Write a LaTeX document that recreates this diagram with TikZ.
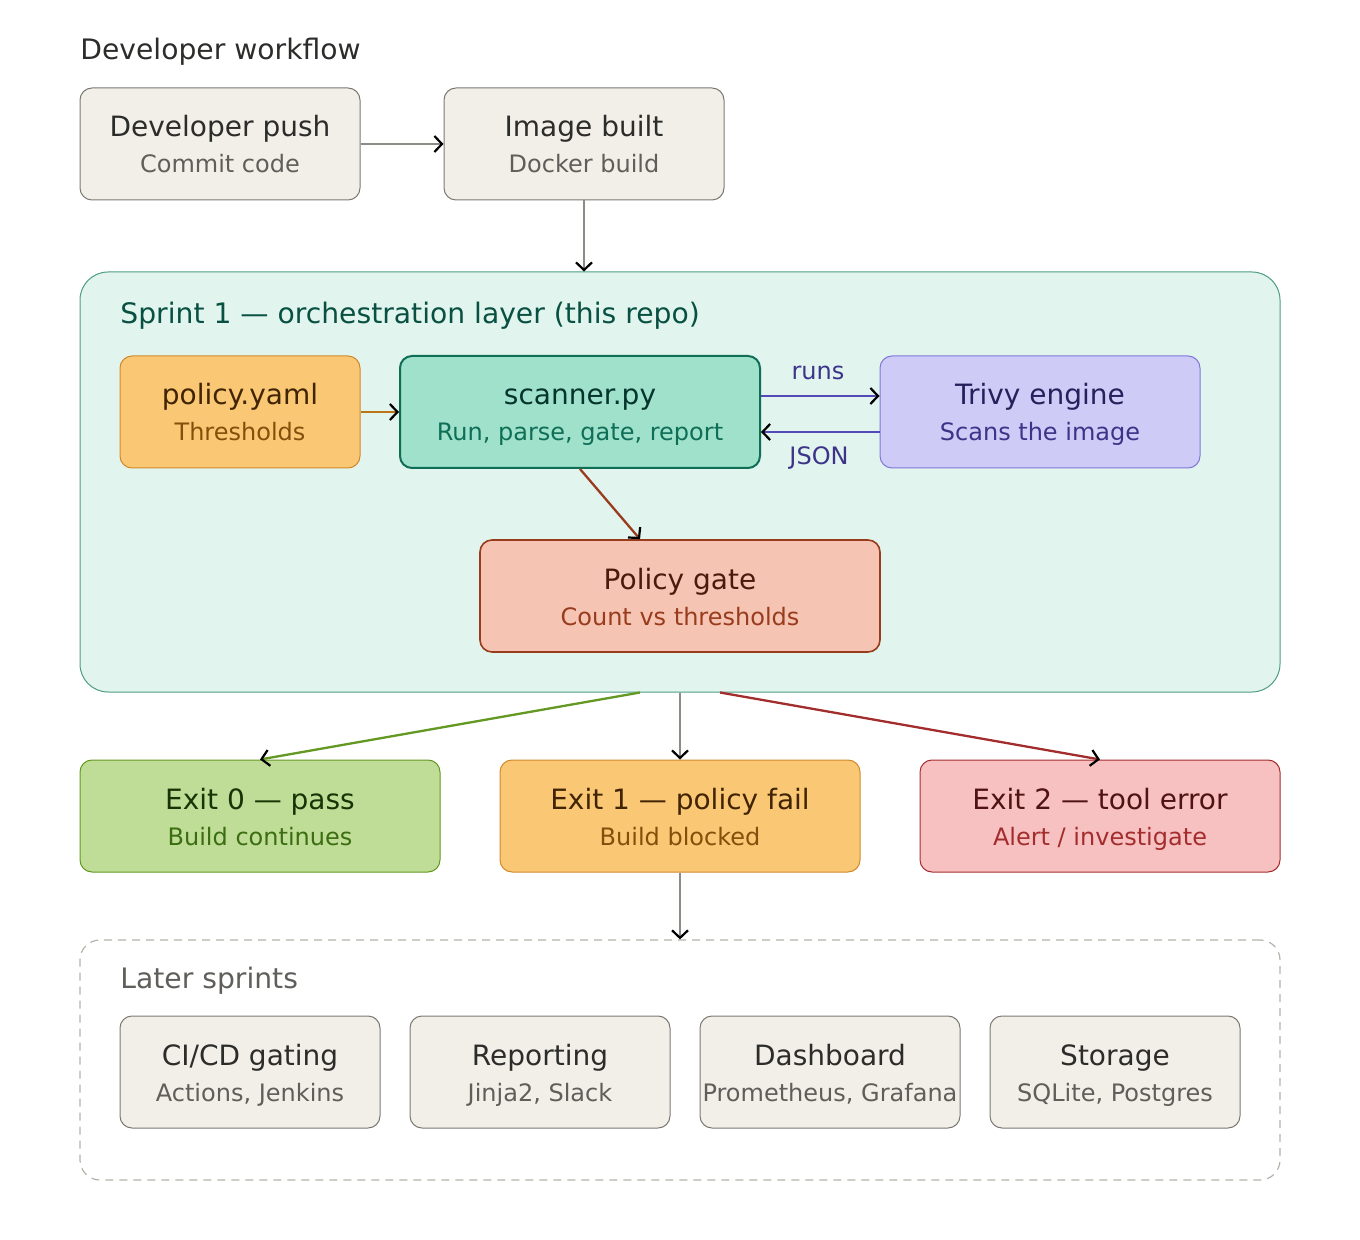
\documentclass[tikz,border=0pt]{standalone}
\usepackage{fontspec}
\setmainfont{DejaVu Sans}
\usetikzlibrary{arrows.meta,positioning}

\definecolor{beigeF}{HTML}{F1EFE8}
\definecolor{beigeD}{HTML}{7A7973}
\definecolor{inkT}{HTML}{2C2C2A}
\definecolor{inkS}{HTML}{5F5E5A}
\definecolor{amberF}{HTML}{FAC775}
\definecolor{amberD}{HTML}{D08A2A}
\definecolor{amberT}{HTML}{412402}
\definecolor{amberS}{HTML}{854F0B}
\definecolor{amberA}{HTML}{BA7517}
\definecolor{tealBg}{HTML}{E1F4EE}
\definecolor{tealBd}{HTML}{4E9C84}
\definecolor{tealF}{HTML}{9FE1CB}
\definecolor{tealD}{HTML}{0F6E56}
\definecolor{tealT}{HTML}{04342C}
\definecolor{tealH}{HTML}{085041}
\definecolor{violF}{HTML}{CECBF6}
\definecolor{violD}{HTML}{7F77DD}
\definecolor{violT}{HTML}{26215C}
\definecolor{violS}{HTML}{3C3489}
\definecolor{violA}{HTML}{534AB7}
\definecolor{coralF}{HTML}{F5C4B3}
\definecolor{coralD}{HTML}{993C1D}
\definecolor{coralT}{HTML}{4A1B0C}
\definecolor{greenF}{HTML}{C0DD97}
\definecolor{greenD}{HTML}{639922}
\definecolor{greenT}{HTML}{173404}
\definecolor{greenS}{HTML}{3B6D11}
\definecolor{redF}{HTML}{F7C1C1}
\definecolor{redD}{HTML}{A32D2D}
\definecolor{redT}{HTML}{501313}
\definecolor{grayA}{HTML}{8C8B85}
\definecolor{grayDash}{HTML}{B4B2A9}

% title and subtitle of a card
\newcommand\cardtxt[5]{%
  \node[ttl,text=#4,anchor=base] (#1-t) at ([yshift=3.5pt]#1.center) {#2};
  \node[sub,text=#5,anchor=base] (#1-s) at ([yshift=-14.5pt]#1.center) {#3};}

\begin{document}
\begin{tikzpicture}[x=0.5pt,y=-0.5pt,
  card/.style={draw,rounded corners=6pt,minimum width=140pt,minimum height=56pt,inner sep=0pt,line width=0.5pt},
  ttl/.style={font=\fontsize{14}{16}\selectfont,inner sep=0pt},
  sub/.style={font=\fontsize{12}{14}\selectfont,inner sep=0pt},
  head/.style={font=\fontsize{14.1}{16}\selectfont,inner sep=0pt,anchor=base west},
  flow/.style={line width=1.15pt,-{Straight Barb[length=3.8pt,width=8pt,line width=1.1pt,color=black]}},
]
\useasboundingbox (0,0) rectangle (1360,1240);

\node[head,text=inkT] (devhead) at (80,60) {Developer workflow};

\node[card,fill=beigeF,draw=beigeD] (push) at (220,144) {};
\node[card,fill=beigeF,draw=beigeD] (img) at (584,144) {};
\cardtxt{push}{Developer push}{Commit code}{inkT}{inkS}
\cardtxt{img}{Image built}{Docker build}{inkT}{inkS}

\node[draw=tealBd,fill=tealBg,rounded corners=14pt,line width=0.5pt,minimum width=600pt,minimum height=210pt] (sprint) at (680,482) {};
\node[head,text=tealH] (sprinthead) at (120,324) {Sprint 1 — orchestration layer (this repo)};

\node[card,fill=amberF,draw=amberD,minimum width=120pt] (pol) at (240,412) {};
\node[card,fill=tealF,draw=tealD,line width=1pt,minimum width=180pt] (scan) at (580,412) {};
\node[card,fill=violF,draw=violD,minimum width=160pt] (trivy) at (1040,412) {};
\node[card,fill=coralF,draw=coralD,line width=0.8pt,minimum width=200pt] (gate) at (680,596) {};
\cardtxt{pol}{policy.yaml}{Thresholds}{amberT}{amberS}
\cardtxt{scan}{scanner.py}{Run, parse, gate, report}{tealT}{tealD}
\cardtxt{trivy}{Trivy engine}{Scans the image}{violT}{violS}
\cardtxt{gate}{Policy gate}{Count vs thresholds}{coralT}{coralD}

\node[card,fill=greenF,draw=greenD,minimum width=180pt] (exit0) at (260,816) {};
\node[card,fill=amberF,draw=amberD,minimum width=180pt] (exit1) at (680,816) {};
\node[card,fill=redF,draw=redD,minimum width=180pt] (exit2) at (1100,816) {};
\cardtxt{exit0}{Exit 0 — pass}{Build continues}{greenT}{greenS}
\cardtxt{exit1}{Exit 1 — policy fail}{Build blocked}{amberT}{amberS}
\cardtxt{exit2}{Exit 2 — tool error}{Alert / investigate}{redT}{redD}

\node[draw=grayDash,dash pattern=on 4pt off 3pt,rounded corners=10pt,line width=0.6pt,minimum width=600pt,minimum height=120pt] (later) at (680,1060) {};
\node[head,text=inkS] (laterhead) at (120,988) {Later sprints};

\node[card,fill=beigeF,draw=beigeD,minimum width=130pt] (cicd) at (250,1072) {};
\node[card,fill=beigeF,draw=beigeD,minimum width=130pt] (rep) at (540,1072) {};
\node[card,fill=beigeF,draw=beigeD,minimum width=130pt] (dash) at (830,1072) {};
\node[card,fill=beigeF,draw=beigeD,minimum width=125pt] (store) at (1115,1072) {};
\cardtxt{cicd}{CI/CD gating}{Actions, Jenkins}{inkT}{inkS}
\cardtxt{rep}{Reporting}{Jinja2, Slack}{inkT}{inkS}
\cardtxt{dash}{Dashboard}{Prometheus, Grafana}{inkT}{inkS}
\cardtxt{store}{Storage}{SQLite, Postgres}{inkT}{inkS}

\draw[flow,grayA] (push) -- (img);
\draw[flow,grayA] (img.south) -- (img.south |- sprint.north);
\draw[flow,amberA] (pol) -- (scan);
\draw[flow,violA] ([yshift=8pt]scan.east) -- ([yshift=8pt]trivy.west);
\draw[flow,violA] ([yshift=-10pt]trivy.west) -- ([yshift=-10pt]scan.east);
\node[sub,text=violS,anchor=base] (runs) at (818,380) {runs};
\node[sub,text=violS,anchor=base] (json) at (819,465) {JSON};
\draw[flow,coralD] (scan.south) -- ([xshift=-20pt]gate.north);
\draw[flow,greenD] ([xshift=-20pt]sprint.south) -- (exit0.north);
\draw[flow,grayA] (sprint.south) -- (exit1.north);
\draw[flow,redD] ([xshift=20pt]sprint.south) -- (exit2.north);
\draw[flow,grayA] (exit1.south) -- (later.north);

\end{tikzpicture}
\end{document}
